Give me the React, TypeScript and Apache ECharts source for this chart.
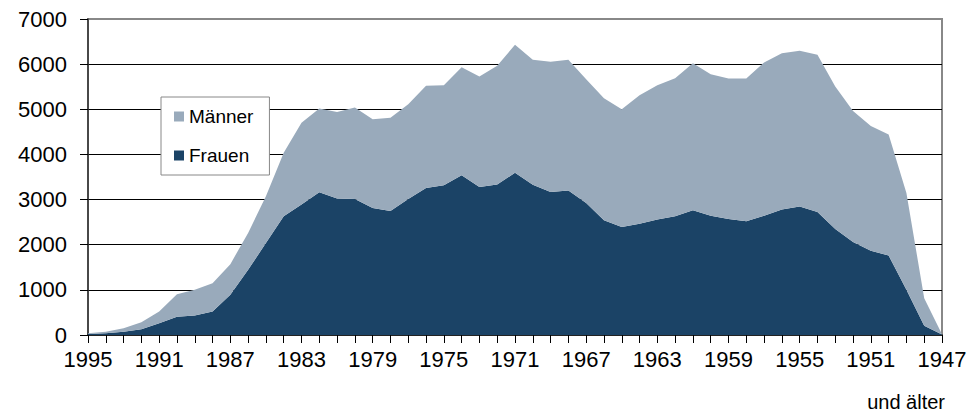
import React, { useEffect, useRef } from "react";
import * as echarts from "echarts";

const years: string[] = [
  "1995","1994","1993","1992","1991","1990","1989","1988","1987","1986",
  "1985","1984","1983","1982","1981","1980","1979","1978","1977","1976",
  "1975","1974","1973","1972","1971","1970","1969","1968","1967","1966",
  "1965","1964","1963","1962","1961","1960","1959","1958","1957","1956",
  "1955","1954","1953","1952","1951","1950","1949","1948","1947",
];

const frauen: number[] = [
  22, 37, 74, 126, 259, 407, 430, 519, 889, 1444,
  2037, 2630, 2889, 3163, 3022, 3015, 2815, 2748, 3015, 3259,
  3319, 3541, 3281, 3333, 3593, 3326, 3170, 3200, 2926, 2541,
  2393, 2467, 2556, 2630, 2763, 2644, 2570, 2519, 2644, 2778,
  2844, 2726, 2348, 2059, 1867, 1763, 1000, 207, 10,
];

const maenner: number[] = [
  15, 37, 74, 155, 260, 497, 570, 629, 681, 816,
  1037, 1407, 1815, 1852, 1919, 2022, 1963, 2067, 2096, 2260,
  2214, 2392, 2445, 2630, 2837, 2770, 2882, 2896, 2741, 2703,
  2607, 2844, 2977, 3059, 3259, 3134, 3111, 3162, 3393, 3466,
  3452, 3481, 3156, 2904, 2763, 2681, 2148, 608, 5,
];

const legendOrder: string[] = ["Männer", "Frauen"];
const footnote = "und älter";

const FONT = "'Liberation Sans', Arial, Helvetica, sans-serif";

export default function App() {
  const ref = useRef<HTMLDivElement>(null);
  useEffect(() => {
    if (!ref.current) return;
    const chart = echarts.init(ref.current, undefined, { renderer: "svg" });
    chart.setOption({
      animation: false,
      backgroundColor: "#fff",
      textStyle: { fontFamily: FONT },
      grid: {
        left: 88,
        right: 31,
        top: 19,
        bottom: 77,
        show: true,
        borderColor: "#888",
        borderWidth: 2,
        backgroundColor: "transparent",
      },
      legend: {
        data: legendOrder,
        orient: "vertical",
        left: 161,
        top: 97,
        backgroundColor: "#fff",
        borderColor: "#888",
        borderWidth: 1,
        padding: [10, 16, 10, 13],
        itemGap: 20,
        itemWidth: 10,
        itemHeight: 10,
        icon: "rect",
        itemStyle: { borderWidth: 0 },
        textStyle: { fontSize: 19, color: "#000", fontFamily: FONT },
        selectedMode: false,
      },
      xAxis: {
        type: "category",
        data: years,
        boundaryGap: false,
        axisLine: { show: true, lineStyle: { color: "#000", width: 1.5 } },
        axisTick: { show: true, interval: 0, length: 8, lineStyle: { color: "#000", width: 1 } },
        axisLabel: { interval: 3, fontSize: 22, color: "#000", margin: 13, fontFamily: FONT },
        splitLine: { show: false },
      },
      yAxis: {
        type: "value",
        min: 0,
        max: 7000,
        interval: 1000,
        axisLine: { show: true, lineStyle: { color: "#333", width: 1.5 } },
        axisTick: { show: true, length: 8, lineStyle: { color: "#000", width: 1 } },
        axisLabel: {
          fontSize: 22,
          color: "#000",
          margin: 21,
          fontFamily: FONT,
          formatter: (v: number) => String(v),
        },
        splitLine: { show: true, showMinLine: false, showMaxLine: false, lineStyle: { color: "#000", width: 1 } },
      },
      graphic: [
        {
          type: "text",
          right: 28,
          top: 392,
          style: { text: footnote, fontSize: 20, fill: "#000", fontFamily: FONT },
        },
      ],
      series: [
        {
          name: "Frauen",
          type: "line",
          stack: "total",
          data: frauen,
          color: "#1b4366",
          symbol: "none",
          lineStyle: { width: 0 },
          areaStyle: { color: "#1b4366", opacity: 1 },
        },
        {
          name: "Männer",
          type: "line",
          stack: "total",
          data: maenner,
          color: "#99aabb",
          symbol: "none",
          lineStyle: { width: 0 },
          areaStyle: { color: "#99aabb", opacity: 1 },
        },
      ],
    });
    return () => chart.dispose();
  }, []);
  return (
    <div
      ref={ref}
      style={{ position: "fixed", left: 0, top: 0, width: 973, height: 412 }}
    />
  );
}
